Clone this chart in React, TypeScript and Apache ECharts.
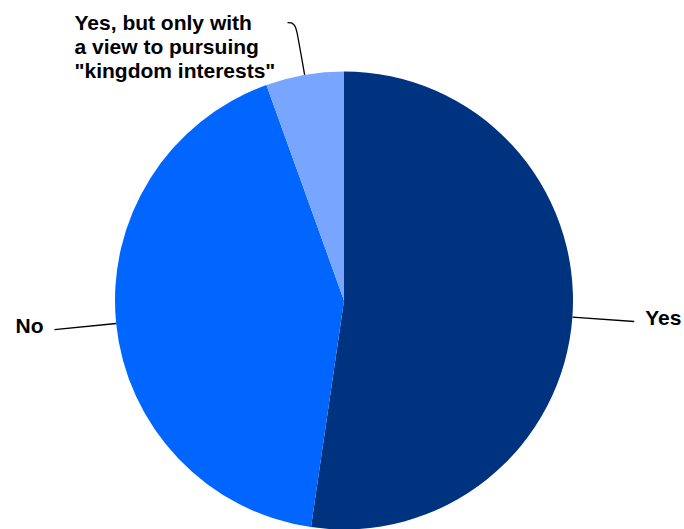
import React, { useEffect, useRef } from "react";
import * as echarts from "echarts";

const categories = ["Yes", "No", 'Yes, but only with\na view to pursuing\n"kingdom interests"'];
const values = [52.3, 42.2, 5.5];
const colors = ["#00337F", "#0066FF", "#78A6FF"];

const FONT = "Liberation Sans, Arial, sans-serif";

export default function App() {
  const ref = useRef<HTMLDivElement>(null);
  useEffect(() => {
    if (!ref.current) return;
    const chart = echarts.init(ref.current, undefined, { renderer: "svg" });
    const data = categories.map((name, i) => {
      const item: any = { name, value: values[i], itemStyle: { color: colors[i] } };
      if (i === 2) {
        item.label = {
          width: 200,
          padding: [48, 2, 0, 0],
          rich: { l: { align: "left", fontSize: 21, fontWeight: "bold", lineHeight: 24, fontFamily: FONT, color: "#000" } },
          formatter: (p: any) => p.name.split("\n").map((s: string) => `{l|${s}}`).join("\n"),
        };
        item.labelLine = { length: 53, length2: 8, smooth: 0.5 };
      } else {
        item.label = {
          formatter: "{t|{b}}\n{s|}",
          rich: {
            t: { fontSize: 21, fontWeight: "bold", lineHeight: 24, fontFamily: FONT, color: "#000" },
            s: { lineHeight: 9, fontSize: 1 },
          },
        };
      }
      return item;
    });
    chart.setOption({
      animation: false,
      backgroundColor: "#fff",
      series: [
        {
          type: "pie",
          center: [344, 300.5],
          radius: [0, 229],
          startAngle: 90,
          clockwise: true,
          avoidLabelOverlap: false,
          label: {
            show: true,
            position: "outside",
            fontSize: 21,
            fontWeight: "bold",
            lineHeight: 24,
            fontFamily: FONT,
            color: "#000",
            overflow: "none",
            distanceToLabelLine: 11,
          },
          labelLine: {
            show: true,
            length: 62,
            length2: 0,
            lineStyle: { color: "#000", width: 1.3 },
          },
          itemStyle: { borderWidth: 0 },
          emphasis: { disabled: true },
          data,
        },
      ],
    });
    return () => chart.dispose();
  }, []);
  return <div ref={ref} style={{ width: 684, height: 529, position: "absolute", left: 0, top: 0 }} />;
}
